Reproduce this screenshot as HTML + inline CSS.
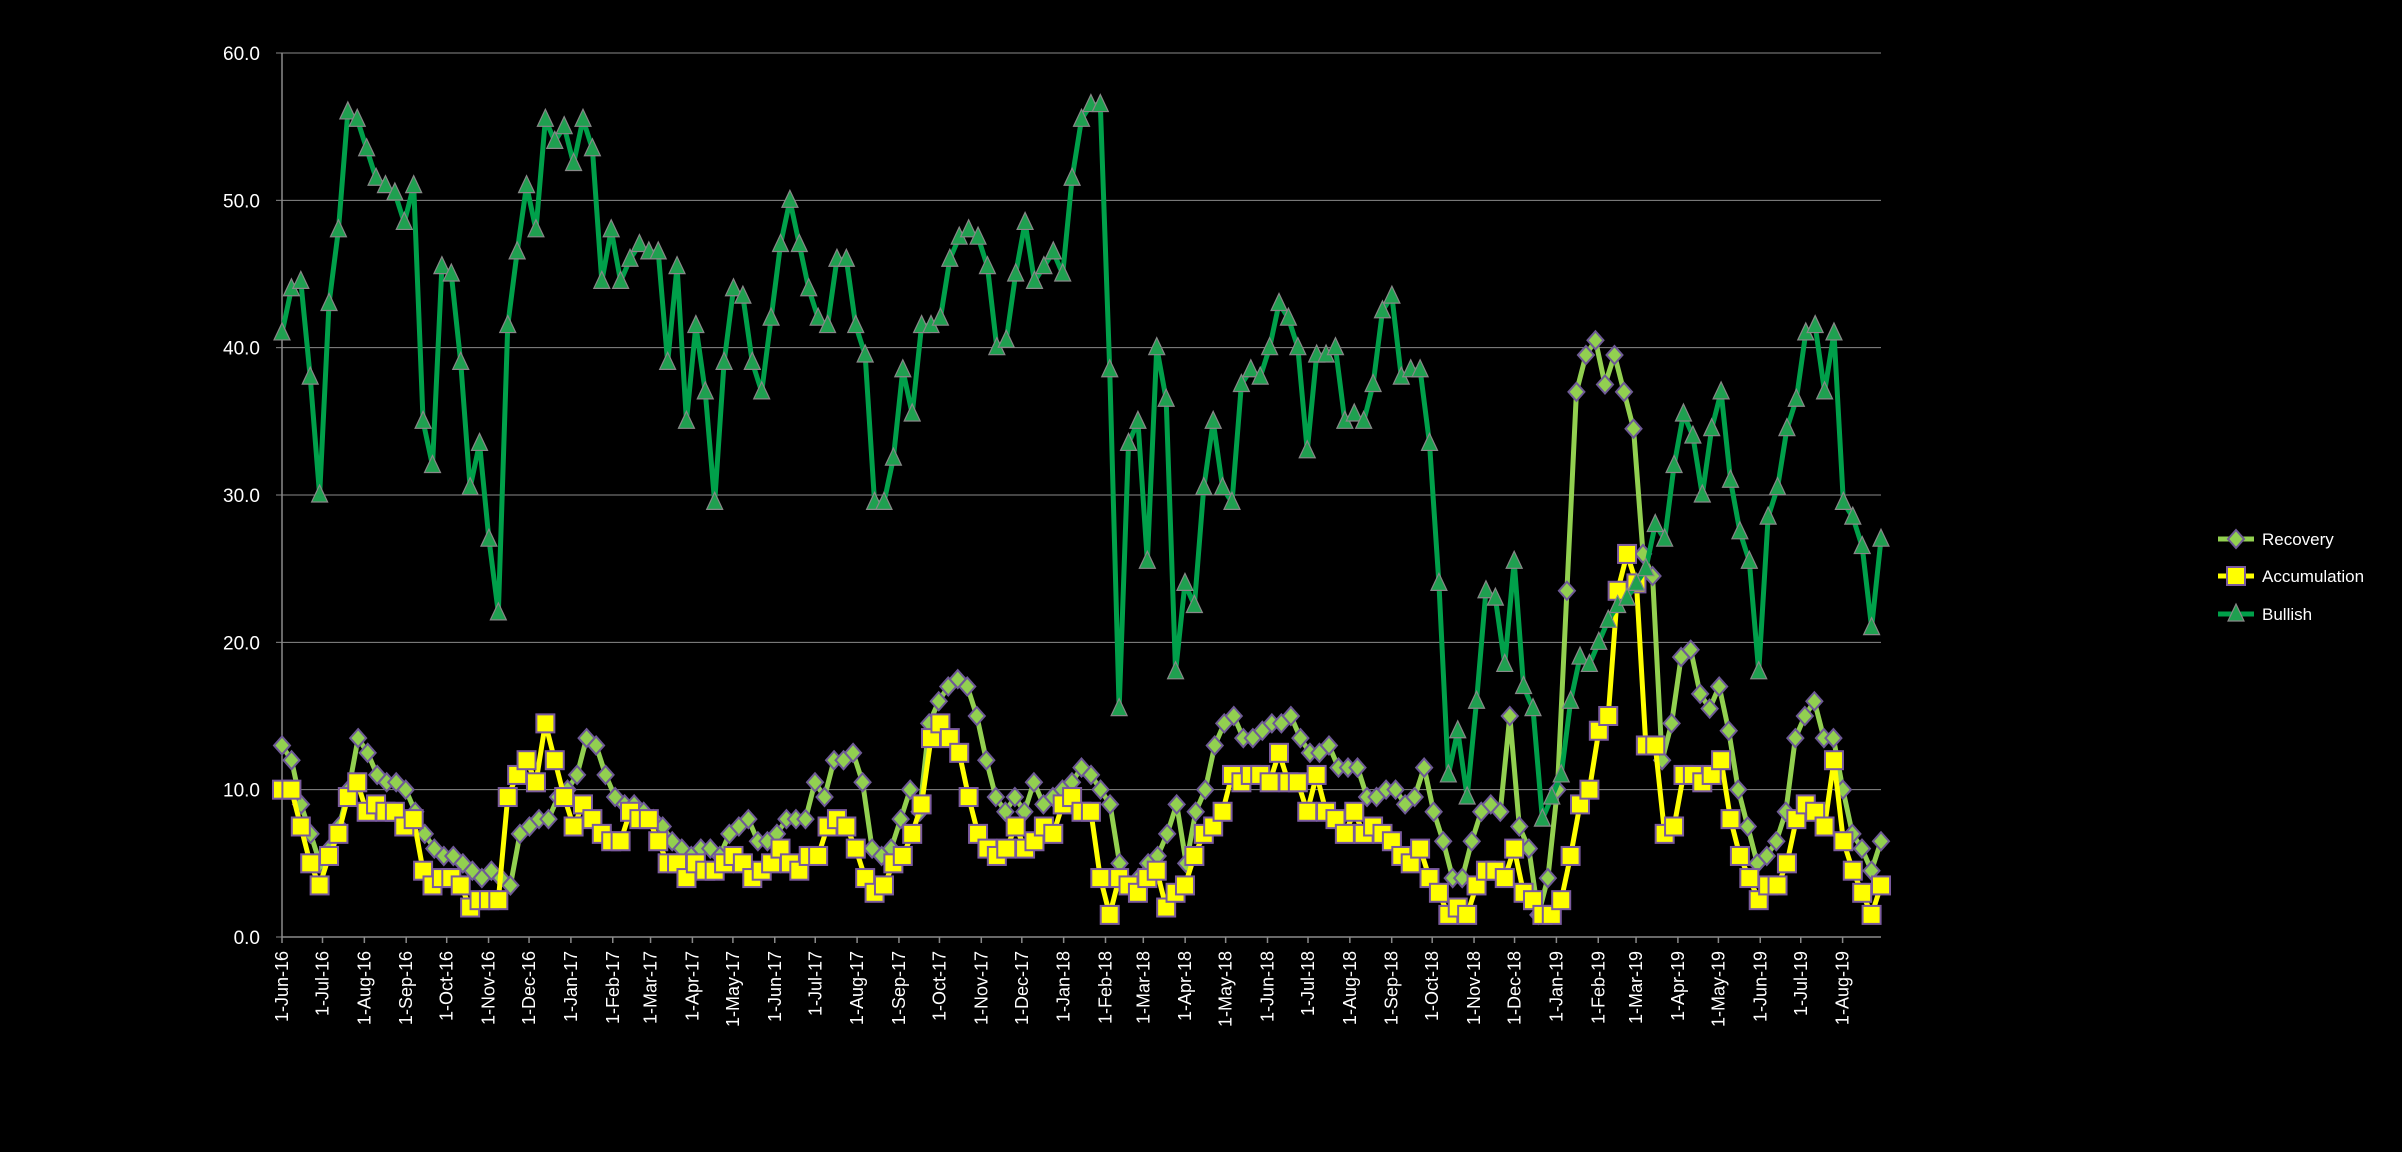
<!DOCTYPE html>
<html><head><meta charset="utf-8"><style>
html,body{margin:0;padding:0;background:#000;}
svg{display:block;font-family:"Liberation Sans",sans-serif;}
</style></head><body>
<svg id="c" width="2402" height="1152" xmlns="http://www.w3.org/2000/svg">
<rect width="2402" height="1152" fill="#000"/>
</svg>
<script>
const NS="http://www.w3.org/2000/svg",svg=document.getElementById('c');
function el(t,a,p){const e=document.createElementNS(NS,t);for(const k in a)e.setAttribute(k,a[k]);(p||svg).appendChild(e);return e;}
const X0=282,X1=1881,Y0=937,Y60=53;
const ys=v=>Y0-(Y0-Y60)*v/60;
for(let v=0;v<=60;v+=10){
 if(v>0)el('line',{x1:X0,x2:X1,y1:ys(v),y2:ys(v),stroke:'#8a8a8a','stroke-width':1});
 const t=el('text',{x:X0-22,y:ys(v)+7,fill:'#fff','font-size':19,'text-anchor':'end'});t.textContent=v.toFixed(1);
 el('line',{x1:X0-6,x2:X0,y1:ys(v),y2:ys(v),stroke:'#8a8a8a','stroke-width':1});
}
el('line',{x1:X0,x2:X0,y1:Y60,y2:Y0,stroke:'#8a8a8a','stroke-width':1.5});
el('line',{x1:X0,x2:X1,y1:Y0,y2:Y0,stroke:'#8a8a8a','stroke-width':1.5});
const start=Date.UTC(2016,5,1),pxd=1.350;
const mn=['Jan','Feb','Mar','Apr','May','Jun','Jul','Aug','Sep','Oct','Nov','Dec'];
for(let y=2016,m=5;y<2019||(y==2019&&m<=7);){
 const d=(Date.UTC(y,m,1)-start)/864e5,x=X0+d*pxd;
 el('line',{x1:x,x2:x,y1:Y0,y2:Y0+6,stroke:'#8a8a8a','stroke-width':1.5});
 const t=el('text',{x:0,y:0,fill:'#fff','font-size':18,'text-anchor':'end',transform:`translate(${x+6},${Y0+14}) rotate(-90)`});
 t.textContent=`1-${mn[m]}-${String(y).slice(2)}`;
 m++;if(m>11){m=0;y++;}
}
const bull=[41,44,44.5,38,30,43,48,56,55.5,53.5,51.5,51,50.5,48.5,51,35,32,45.5,45,39,30.5,33.5,27,22,41.5,46.5,51,48,55.5,54,55,52.5,55.5,53.5,44.5,48,44.5,46,47,46.5,46.5,39,45.5,35,41.5,37,29.5,39,44,43.5,39,37,42,47,50,47,44,42,41.5,46,46,41.5,39.5,29.5,29.5,32.5,38.5,35.5,41.5,41.5,42,46,47.5,48,47.5,45.5,40,40.5,45,48.5,44.5,45.5,46.5,45,51.5,55.5,56.5,56.5,38.5,15.5,33.5,35,25.5,40,36.5,18,24,22.5,30.5,35,30.5,29.5,37.5,38.5,38,40,43,42,40,33,39.5,39.5,40,35,35.5,35,37.5,42.5,43.5,38,38.5,38.5,33.5,24,11,14,9.5,16,23.5,23,18.5,25.5,17,15.5,8,9.5,11,16,19,18.5,20,21.5,22.5,23,24,25,28,27,32,35.5,34,30,34.5,37,31,27.5,25.5,18,28.5,30.5,34.5,36.5,41,41.5,37,41,29.5,28.5,26.5,21,27];
const rec=[13,12,9,7,5,6,7.5,10,13.5,12.5,11,10.5,10.5,10,8.5,7,6,5.5,5.5,5,4.5,4,4.5,4,3.5,7,7.5,8,8,9.5,10,11,13.5,13,11,9.5,9,9,8.5,8,7.5,6.5,6,5.5,6,6,5.5,7,7.5,8,6.5,6.5,7,8,8,8,10.5,9.5,12,12,12.5,10.5,6,5.5,6,8,10,8.5,14.5,16,17,17.5,17,15,12,9.5,8.5,9.5,8.5,10.5,9,9.5,10,10.5,11.5,11,10,9,5,3.5,4,5,5.5,7,9,5,8.5,10,13,14.5,15,13.5,13.5,14,14.5,14.5,15,13.5,12.5,12.5,13,11.5,11.5,11.5,9.5,9.5,10,10,9,9.5,11.5,8.5,6.5,4,4,6.5,8.5,9,8.5,15,7.5,6,1.5,4,10,23.5,37,39.5,40.5,37.5,39.5,37,34.5,26,24.5,12,14.5,19,19.5,16.5,15.5,17,14,10,7.5,5,5.5,6.5,8.5,13.5,15,16,13.5,13.5,10,7,6,4.5,6.5];
const acc=[10,10,7.5,5,3.5,5.5,7,9.5,10.5,8.5,9,8.5,8.5,7.5,8,4.5,3.5,4,4,3.5,2,2.5,2.5,2.5,9.5,11,12,10.5,14.5,12,9.5,7.5,9,8,7,6.5,6.5,8.5,8,8,6.5,5,5,4,5,4.5,4.5,5,5.5,5,4,4.5,5,6,5,4.5,5.5,5.5,7.5,8,7.5,6,4,3,3.5,5,5.5,7,9,13.5,14.5,13.5,12.5,9.5,7,6,5.5,6,7.5,6,6.5,7.5,7,9,9.5,8.5,8.5,4,1.5,4,3.5,3,4,4.5,2,3,3.5,5.5,7,7.5,8.5,11,10.5,11,11,10.5,12.5,10.5,10.5,8.5,11,8.5,8,7,8.5,7,7.5,7,6.5,5.5,5,6,4,3,1.5,2,1.5,3.5,4.5,4.5,4,6,3,2.5,1.5,1.5,2.5,5.5,9,10,14,15,23.5,26,24,13,13,7,7.5,11,11,10.5,11,12,8,5.5,4,2.5,3.5,3.5,5,8,9,8.5,7.5,12,6.5,4.5,3,1.5,3.5];
function mk(type,x,y,g){
 if(type=='d')el('polygon',{points:`${x},${y-9} ${x+8},${y} ${x},${y+9} ${x-8},${y}`,fill:'#92d050',stroke:'#6e5a96','stroke-width':2},g);
 else if(type=='s')el('rect',{x:x-9,y:y-9,width:18,height:18,fill:'#ffff00',stroke:'#7a5a9e','stroke-width':2},g);
 else el('polygon',{points:`${x},${y-10} ${x+8},${y+7} ${x-8},${y+7}`,fill:'#1fa050',stroke:'#888','stroke-width':1.2},g);
}
function series(d,col,type){
 const n=d.length,dx=(X1-X0)/(n-1),g=el('g',{});
 el('polyline',{points:d.map((v,i)=>`${X0+i*dx},${ys(v)}`).join(' '),fill:'none',stroke:col,'stroke-width':5,'stroke-linejoin':'round'},g);
 d.forEach((v,i)=>mk(type,X0+i*dx,ys(v),g));
}
series(rec,'#92d050','d');series(acc,'#ffff00','s');series(bull,'#00a04a','t');
const L=[['Recovery','#92d050','d',539],['Accumulation','#ffff00','s',576],['Bullish','#00a04a','t',614]];
L.forEach(([n,c,t,y])=>{el('line',{x1:2218,x2:2254,y1:y,y2:y,stroke:c,'stroke-width':5});mk(t,2236,y,svg);
 const tx=el('text',{x:2262,y:y+6,fill:'#fff','font-size':17});tx.textContent=n;});
</script>
</body></html>
